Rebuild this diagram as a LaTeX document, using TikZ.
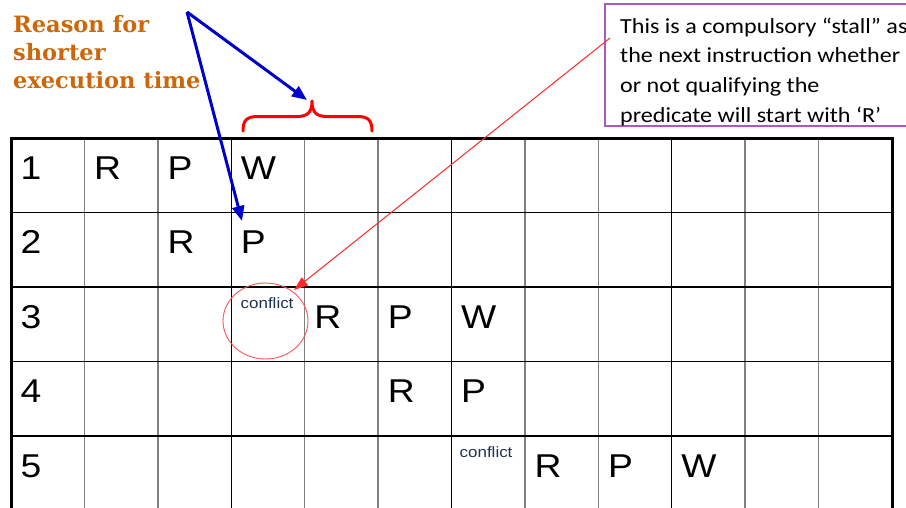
\documentclass[tikz,border=0pt]{standalone}
\usepackage{fontspec}
\setmainfont{Liberation Sans}[FakeStretch=1.13]
\newfontfamily\bodyfont{Carlito}[FakeStretch=1.12]
\newfontfamily\slabfont{DejaVu Serif}
\usetikzlibrary{arrows.meta}
\definecolor{rust}{RGB}{204,104,10}
\definecolor{pointerblue}{RGB}{0,0,204}
\definecolor{notered}{RGB}{255,40,40}
\definecolor{boxpurple}{RGB}{170,90,185}
\definecolor{conflictink}{RGB}{30,50,85}
\definecolor{gridgray}{RGB}{128,128,128}
\begin{document}
\begin{tikzpicture}[x=1pt,y=-1pt,
  cellletter/.style={anchor=base west,inner sep=0pt,font=\fontsize{33}{36}\selectfont},
  conflictlabel/.style={anchor=base west,inner sep=0pt,text=conflictink,font=\fontsize{15}{17}\selectfont},
  thinline/.style={gridgray,line width=1.5pt},
  darkline/.style={black,line width=1.3pt},
  bluepointer/.style={pointerblue,line width=3pt,-{Triangle[length=15pt,width=12pt]}},
  bracered/.style={red,line width=3pt,line cap=round,line join=round},
  rednote/.style={notered,line width=1pt,-{Triangle[length=14pt,width=10pt]}}
]
\useasboundingbox (0,0) rectangle (906,507);
\clip (0,0) rectangle (906,507);

% ---- grid: 12 columns x 5 rows ----
\foreach \k in {2,3,5,6,8,9,11,12}
  \draw[thinline] ({11+(\k-1)*73.417},138) -- ({11+(\k-1)*73.417},511);
\foreach \k in {4,7,10}
  \draw[darkline] ({11+(\k-1)*73.417},138) -- ({11+(\k-1)*73.417},511);
\foreach \r in {2,3,4,5}
  \draw[darkline] (11,{138+(\r-1)*74.5}) -- (892,{138+(\r-1)*74.5});
\draw[black,line width=3pt,line join=miter] (11,511) -- (11,138) -- (892,138) -- (892,511);

% ---- cell entries: row/column/text ----
\foreach \r/\c/\t in {1/1/1,1/2/R,1/3/P,1/4/W,
                      2/1/2,2/3/R,2/4/P,
                      3/1/3,3/5/R,3/6/P,3/7/W,
                      4/1/4,4/6/R,4/7/P,
                      5/1/5,5/8/R,5/9/P,5/10/W}
  \node[cellletter] (cell-\r-\c) at ({11+(\c-1)*73.417+9.5},{138+(\r-1)*74.5+41}) {\t};

\node[conflictlabel] (conflictA) at (240.5,308) {conflict};
\node[conflictlabel] (conflictB) at (459.5,457) {conflict};
\draw[notered!80,line width=0.9pt] (265.5,321) ellipse [x radius=42.5,y radius=38];
\coordinate (circlehit) at (294,290);

% ---- note box (its last baseline sits at y=122) ----
\draw[boxpurple,line width=1.3pt] (920,4) -- (605,4) -- (605,126) -- (920,126);
\node[anchor=base west,inner sep=0pt,align=left,
      font=\bodyfont\fontsize{21.5}{29.6}\selectfont] (note) at (620,122)
  {This is a compulsory “stall” as\\the next instruction whether\\or not qualifying the\\predicate will start with ‘R’};
\coordinate (noteedge) at (610,38);
\draw[rednote] (noteedge) -- (circlehit);

% ---- reason label (last baseline at y=88) and pointers ----
\node[anchor=base west,inner sep=0pt,align=left,text=rust,
      font=\slabfont\bfseries\fontsize{22.5}{28}\selectfont] (reason) at (13,88)
  {Reason for\\shorter\\execution time};
\coordinate (fork) at (187,12);
\coordinate (bracetip) at (307,100);
\coordinate (ptarget) at (242,221);
\draw[bluepointer] (fork) -- (bracetip);
\draw[bluepointer] (fork) -- (ptarget);

% ---- brace over columns 4 and 5 ----
\draw[bracered] (243,131) .. controls (243,120) and (247,116.5) .. (258,116.5)
  -- (297,116.5) .. controls (307,116.5) and (312,113) .. (312,101)
  .. controls (312,113) and (317,116.5) .. (327,116.5)
  -- (357,116.5) .. controls (368,116.5) and (372,120) .. (372,131);
\end{tikzpicture}
\end{document}
